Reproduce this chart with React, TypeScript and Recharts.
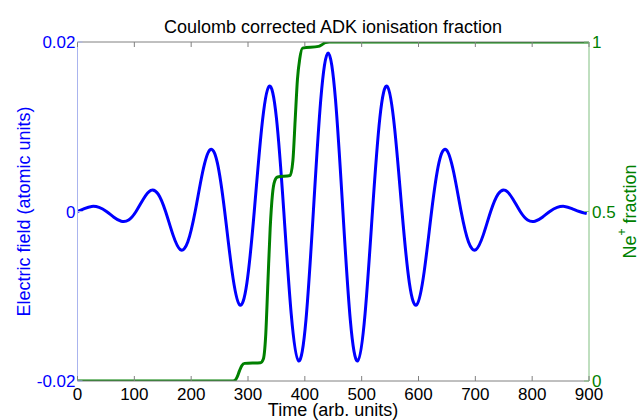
import React from 'react';
import { ComposedChart, Line, XAxis, YAxis, Label } from 'recharts';

// Electric field (atomic units) sampled over time (arb. units)
const FIELD_TIME = [
  0, 12, 25, 38, 51, 64, 77, 90, 103, 116, 129, 142, 155, 168, 181, 194, 207, 220, 233, 246,
  259, 272, 285, 298, 311, 324, 337, 350, 363, 376, 389, 402, 415, 428, 441, 454, 467, 480,
  493, 506, 519, 532, 545, 558, 571, 584, 597, 610, 623, 636, 649, 662, 675, 688, 701, 714,
  727, 740, 753, 766, 779, 792, 805, 818, 831, 844, 857, 870, 883, 896,
];
const FIELD_VALUES = [
  0, 0.00035, 0.0006, 0.00048, 0, -0.00067, -0.00115, -0.00101, 0, 0.00148, 0.0025, 0.00205,
  0, -0.00276, -0.0045, -0.0036, 0, 0.0046, 0.00727, 0.00576, 0, -0.00709, -0.01099, -0.00846,
  0, 0.00981, 0.01477, 0.01104, 0, -0.01206, -0.01763, -0.01279, 0, 0.01317, 0.0187, 0.01317,
  0, -0.01279, -0.01763, -0.01206, 0, 0.01104, 0.01477, 0.00981, 0, -0.00846, -0.01099, -0.00709,
  0, 0.00576, 0.00727, 0.0046, 0, -0.0036, -0.0045, -0.00276, 0, 0.00205, 0.0025, 0.00148,
  0, -0.00101, -0.00115, -0.00067, 0, 0.00048, 0.0006, 0.00035, 0, -0.00025,
];

// Ne+ fraction over time
const ION_TIME = [
  0, 272, 277, 281, 285, 289, 294, 322, 327, 331, 335, 339, 343, 347, 352, 374, 379, 383, 387,
  391, 396, 424, 430, 436, 443, 900,
];
const ION_VALUES = [
  0, 0, 0.002, 0.012, 0.03, 0.045, 0.052, 0.054, 0.065, 0.13, 0.29, 0.45, 0.55, 0.59, 0.602,
  0.606, 0.65, 0.77, 0.89, 0.95, 0.982, 0.987, 0.992, 0.998, 1, 1,
];

const X_TICKS = [0, 100, 200, 300, 400, 500, 600, 700, 800, 900];
const LEFT_TICKS = [-0.02, 0, 0.02];
const RIGHT_TICKS = [0, 0.5, 1];

const TITLE = 'Coulomb corrected ADK ionisation fraction';
const X_LABEL = 'Time (arb. units)';
const LEFT_LABEL = 'Electric field (atomic units)';

const fieldData = FIELD_TIME.map((t, i) => ({ t, e: FIELD_VALUES[i] }));
const ionData = ION_TIME.map((t, i) => ({ t, f: ION_VALUES[i] }));

const FONT = '"Liberation Sans", Arial, Helvetica, sans-serif';
const BLUE = '#0000ff';
const GREEN = '#008000';
const GRAY = '#808080';

const BottomTick = (props: any) => {
  const { x, y, payload } = props;
  return (
    <g>
      <line x1={x} x2={x} y1={y} y2={y - 5} stroke={GRAY} strokeWidth={1} />
      <text x={x} y={y + 19} textAnchor="middle" fontSize={17} fontFamily={FONT} fill="#000">
        {payload.value}
      </text>
    </g>
  );
};

const TopTick = (props: any) => {
  const { x, y } = props;
  return <line x1={x} x2={x} y1={y} y2={y + 5} stroke={GRAY} strokeWidth={1} />;
};

const LeftTick = (props: any) => {
  const { x, y, payload } = props;
  return (
    <g>
      <line x1={x} x2={x + 5} y1={y} y2={y} stroke="#aab4ee" strokeWidth={1} />
      <text x={x - 2} y={y + 6} textAnchor="end" fontSize={17} fontFamily={FONT} fill={BLUE}>
        {String(payload.value)}
      </text>
    </g>
  );
};

const RightTick = (props: any) => {
  const { x, y, payload } = props;
  return (
    <g>
      <line x1={x} x2={x - 5} y1={y} y2={y} stroke="#80bf80" strokeWidth={1} />
      <text x={x + 3} y={y + 6} textAnchor="start" fontSize={17} fontFamily={FONT} fill={GREEN}>
        {String(payload.value)}
      </text>
    </g>
  );
};

export default function App() {
  return (
    <div style={{ position: 'absolute', left: 0, top: 0, width: 643, height: 420, background: '#fff' }}>
      <ComposedChart
        width={643}
        height={420}
        margin={{ top: 41, right: 0, bottom: 0, left: 0 }}
      >
        <XAxis
          xAxisId="bottom"
          dataKey="t"
          type="number"
          domain={[0, 900]}
          ticks={X_TICKS}
          allowDataOverflow
          height={39}
          axisLine={{ stroke: GRAY, strokeWidth: 1 }}
          tickLine={false}
          tickSize={0}
          tickMargin={0}
          tick={<BottomTick />}
          interval={0}
        >
          <Label
            content={() => (
              <text x={333} y={416} textAnchor="middle" fontSize={18} fontFamily={FONT} fill="#000">
                {X_LABEL}
              </text>
            )}
          />
        </XAxis>
        <XAxis
          xAxisId="top"
          orientation="top"
          dataKey="t"
          type="number"
          domain={[0, 900]}
          ticks={X_TICKS}
          allowDataOverflow
          height={1}
          axisLine={{ stroke: GRAY, strokeWidth: 1 }}
          tickLine={false}
          tickSize={0}
          tickMargin={0}
          tick={<TopTick />}
          interval={0}
        />
        <YAxis
          yAxisId="left"
          orientation="left"
          type="number"
          domain={[-0.02, 0.02]}
          ticks={LEFT_TICKS}
          allowDataOverflow
          width={77.5}
          axisLine={{ stroke: '#aab4ee', strokeWidth: 1 }}
          tickLine={false}
          tickSize={0}
          tickMargin={0}
          tick={<LeftTick />}
          interval={0}
        >
          <Label
            content={() => (
              <g>
                <text
                  x={24}
                  y={211.5}
                  transform="rotate(-90, 24, 211.5)"
                  textAnchor="middle"
                  dominantBaseline="central"
                  fontSize={18}
                  fontFamily={FONT}
                  fill={BLUE}
                >
                  {LEFT_LABEL}
                </text>
                <text x={333} y={33} textAnchor="middle" fontSize={18} fontFamily={FONT} fill="#000">
                  {TITLE}
                </text>
              </g>
            )}
          />
        </YAxis>
        <YAxis
          yAxisId="right"
          orientation="right"
          type="number"
          domain={[0, 1]}
          ticks={RIGHT_TICKS}
          allowDataOverflow
          width={54}
          axisLine={{ stroke: '#80bf80', strokeWidth: 1 }}
          tickLine={false}
          tickSize={0}
          tickMargin={0}
          tick={<RightTick />}
          interval={0}
        >
          <Label
            content={() => (
              <text
                x={630}
                y={211.5}
                transform="rotate(-90, 630, 211.5)"
                textAnchor="middle"
                dominantBaseline="central"
                fontSize={18}
                fontFamily={FONT}
                fill={GREEN}
              >
                Ne
                <tspan fontSize={12} dy={-8}>+</tspan>
                <tspan dy={8}> fraction</tspan>
              </text>
            )}
          />
        </YAxis>
        <Line
          xAxisId="top"
          yAxisId="right"
          data={ionData}
          dataKey="f"
          stroke="none"
          strokeWidth={0}
          dot={false}
          activeDot={false}
          isAnimationActive={false}
        />
        <Line
          xAxisId="bottom"
          yAxisId="left"
          data={fieldData}
          dataKey="e"
          type="natural"
          stroke={BLUE}
          strokeWidth={3}
          dot={false}
          activeDot={false}
          isAnimationActive={false}
        />
        <Line
          xAxisId="bottom"
          yAxisId="right"
          data={ionData}
          dataKey="f"
          type="monotone"
          stroke={GREEN}
          strokeWidth={3}
          dot={false}
          activeDot={false}
          isAnimationActive={false}
        />
      </ComposedChart>
    </div>
  );
}
